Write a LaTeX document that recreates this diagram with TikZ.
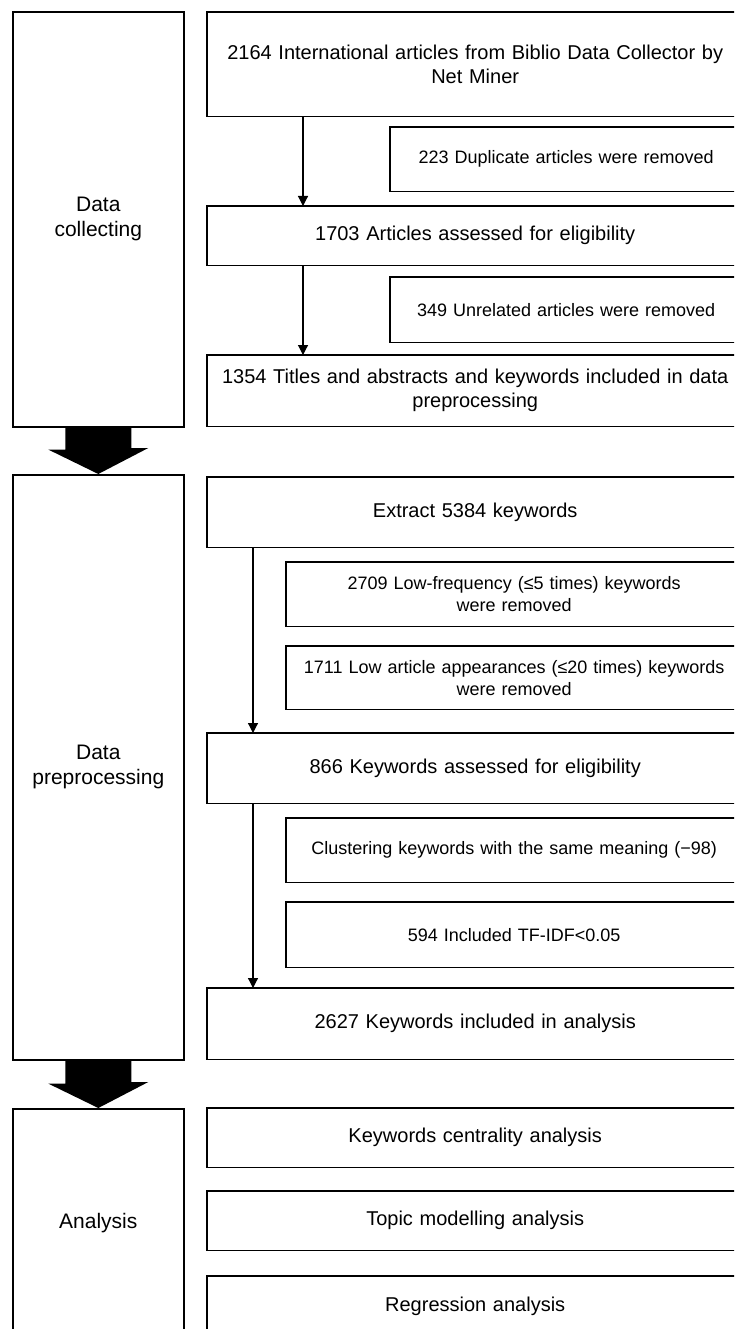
\documentclass[tikz,border=0pt]{standalone}
\usepackage{fontspec}
\setmainfont{Liberation Sans}
\usetikzlibrary{arrows.meta,positioning,calc}

\tikzset{
  stagebox/.style={draw, line width=1.6pt, anchor=north west, minimum width=171pt, inner sep=0pt, align=center, font=\fontsize{21}{25}\selectfont},
  mainbox/.style={anchor=north west, text width=536pt, inner sep=0pt, align=center, font=\fontsize{20}{24}\selectfont},
  sidebox/.style={anchor=north west, inner sep=0pt, align=center, font=\fontsize{18}{22}\selectfont},
  boxline/.style={line width=1.6pt},
  flow/.style={line width=1.2pt, -{Triangle[length=10pt,width=10pt]}},
}

\begin{document}
\begin{tikzpicture}[x=1pt,y=-1pt]
  \useasboundingbox (0,0) rectangle (734,1329);
  \clip (0,0) rectangle (734,1329);

  %--- Stage column ---
  \node[stagebox, minimum height=415pt] (collect) at (12,11) {Data\\collecting};
  \node[stagebox, minimum height=585pt] (prep) at (12,474) {Data\\preprocessing};
  \node[stagebox, minimum height=228pt] (anal) at (12,1108) {Analysis};

  %--- Data collecting ---
  \node[mainbox, minimum height=104pt] (intl) at (207,12) {2164 International articles from Biblio Data Collector by\\Net Miner};
  \node[sidebox, text width=352pt, minimum height=64pt] (dup) at (390,127) {223 Duplicate articles were removed};
  \node[mainbox, minimum height=59pt] (elig) at (207,206) {1703 Articles assessed for eligibility};
  \node[sidebox, text width=352pt, minimum height=65pt] (unrel) at (390,277) {349 Unrelated articles were removed};
  \node[mainbox, minimum height=71pt] (incl) at (207,355) {1354 Titles and abstracts and keywords included in data\\preprocessing};

  %--- Data preprocessing ---
  \node[mainbox, minimum height=70pt] (extract) at (207,477) {Extract 5384 keywords};
  \node[sidebox, text width=456pt, minimum height=64pt] (lowfreq) at (286,562) {2709 Low-frequency (≤5 times) keywords\\were removed};
  \node[sidebox, text width=456pt, minimum height=63pt] (lowart) at (286,646) {1711 Low article appearances (≤20 times) keywords\\were removed};
  \node[mainbox, minimum height=70pt] (kwelig) at (207,733) {866 Keywords assessed for eligibility};
  \node[sidebox, text width=456pt, minimum height=64pt] (cluster) at (286,818) {Clustering keywords with the same meaning (−98)};
  \node[sidebox, text width=456pt, minimum height=65pt] (tfidf) at (286,902) {594 Included TF-IDF<0.05};
  \node[mainbox, minimum height=71pt] (kwincl) at (207,988) {2627 Keywords included in analysis};

  %--- Analysis ---
  \node[mainbox, minimum height=59pt] (central) at (207,1108) {Keywords centrality analysis};
  \node[mainbox, minimum height=59pt] (topic) at (207,1191) {Topic modelling analysis};
  \node[mainbox, minimum height=60pt] (regr) at (207,1276) {Regression analysis};

  % box outlines run off the right edge
  \foreach \n in {intl,dup,elig,unrel,incl,extract,lowfreq,lowart,kwelig,cluster,tfidf,kwincl,central,topic,regr}
    \draw[boxline] (\n.north west) rectangle ([xshift=300pt]\n.south east);

  % flow arrows
  \draw[flow] ([xshift=96pt]intl.south west) -- ([xshift=96pt]elig.north west);
  \draw[flow] ([xshift=96pt]elig.south west) -- ([xshift=96pt]incl.north west);
  \draw[flow] ([xshift=46pt]extract.south west) -- ([xshift=46pt]kwelig.north west);
  \draw[flow] ([xshift=46pt]kwelig.south west) -- ([xshift=46pt]kwincl.north west);

  % big arrows between stages
  \fill ([xshift=-33pt]collect.south) -- ++(0,22) -- ++(-17,0) -- (prep.north) -- ++(50,-26) -- ++(-17,0) -- ([xshift=33pt]collect.south) -- cycle;
  \fill ([xshift=-33pt]prep.south) -- ++(0,23) -- ++(-17,0) -- (anal.north) -- ++(50,-26) -- ++(-17,0) -- ([xshift=33pt]prep.south) -- cycle;
\end{tikzpicture}
\end{document}
